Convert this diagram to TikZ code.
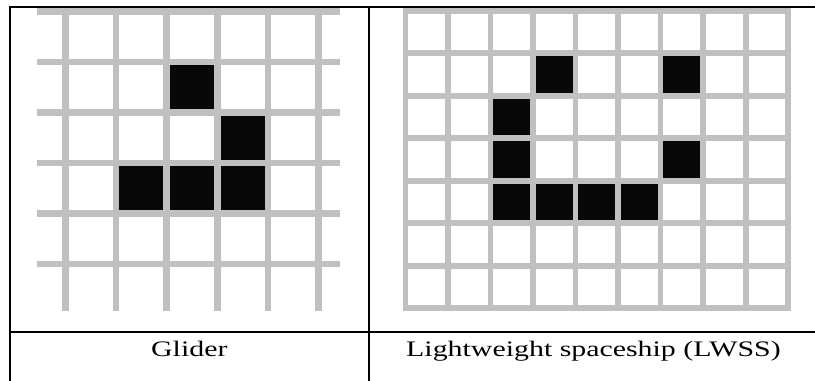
\documentclass[tikz,border=0pt]{standalone}
\usepackage{fontspec}
\setmainfont{Liberation Serif}[FakeStretch=1.35]
\definecolor{gridgray}{HTML}{C0C0C0}

\begin{document}
\begin{tikzpicture}[
  x=0.75pt, y=-0.75pt,
  gline/.style={draw=gridgray, line width=4.9pt},
  sline/.style={draw=gridgray, line width=4.3pt, line cap=rect},
  cell/.style={fill=black!97},
  rule/.style={draw=black, line width=1.5pt},
  lbl/.style={font=\fontsize{16.6}{20}\selectfont, anchor=base, inner sep=0pt},
]
\useasboundingbox (0,0) rectangle (815,381);

%% --- Glider grid (cropped) ------------------------------------------
\foreach \r in {0,...,5}
  \draw[gline] (36.7, 11.5+50.5*\r) -- (340, 11.5+50.5*\r);
\foreach \c in {0,...,5}
  \draw[gline] (65.5+50.6*\c, 8.5) -- (65.5+50.6*\c, 310.7);

\foreach \c/\r in {2/1, 3/2, 1/3, 2/3, 3/3}
  \fill[cell] (65.5+50.6*\c+3.3, 11.5+50.5*\r+3.3) rectangle ++(44, 43.9);

%% --- LWSS grid ------------------------------------------------------
\foreach \r in {0,...,7}
  \draw[sline] (405.5, 10.8+42.5*\r) -- (788.2, 10.8+42.5*\r);
\foreach \c in {0,...,9}
  \draw[sline] (405.5+42.52*\c, 10.8) -- (405.5+42.52*\c, 308.3);

\foreach \c/\r in {3/1, 6/1, 2/2, 2/3, 6/3, 2/4, 3/4, 4/4, 5/4}
  \fill[cell] (405.5+42.52*\c+2.85, 10.8+42.5*\r+2.85) rectangle ++(36.8, 36.8);

%% --- Table rules ----------------------------------------------------
\draw[rule] (10.3, 381) -- (10.3, 7.5) -- (815, 7.5);
\draw[rule] (368.8, 7.5) -- (368.8, 381);
\draw[rule] (10.3, 332.2) -- (815, 332.2);

%% --- Captions -------------------------------------------------------
\node[lbl] (glider) at (189.3, 356.5) {Glider};
\node[lbl] (lwss)   at (593.5, 356.5) {Lightweight spaceship (LWSS)};

\end{tikzpicture}
\end{document}
